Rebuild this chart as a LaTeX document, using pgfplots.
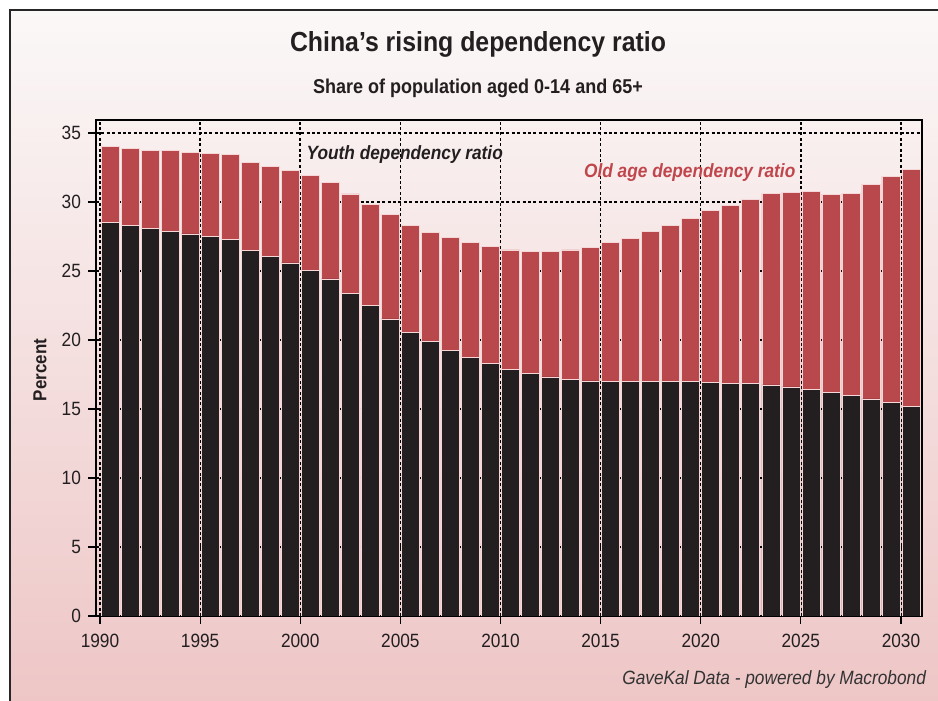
\documentclass[border=0pt]{standalone}
\usepackage{fontspec}
\setmainfont{Liberation Sans}[FakeStretch=0.9]
\usepackage{pgfplots}
\pgfplotsset{compat=1.18}
\usepackage{pgfplotstable}
\definecolor{youth}{RGB}{35,31,32}
\definecolor{old}{RGB}{185,72,76}
\definecolor{oldtxt}{RGB}{192,70,76}
\definecolor{bgtop}{RGB}{251,248,248}
\definecolor{bgbot}{RGB}{238,198,198}
\definecolor{baredge}{RGB}{245,215,215}

\pgfplotstableread{
year youth old
1990 28.50 5.50
1991 28.28 5.58
1992 28.08 5.68
1993 27.89 5.82
1994 27.69 5.93
1995 27.48 6.06
1996 27.26 6.21
1997 26.50 6.34
1998 26.04 6.51
1999 25.58 6.68
2000 25.07 6.85
2001 24.42 7.01
2002 23.40 7.18
2003 22.48 7.37
2004 21.53 7.57
2005 20.56 7.72
2006 19.88 7.91
2007 19.27 8.16
2008 18.76 8.30
2009 18.30 8.47
2010 17.89 8.64
2011 17.57 8.84
2012 17.33 9.10
2013 17.16 9.37
2014 17.04 9.66
2015 16.99 10.07
2016 16.97 10.41
2017 16.97 10.87
2018 16.97 11.33
2019 16.97 11.86
2020 16.92 12.45
2021 16.87 12.91
2022 16.84 13.35
2023 16.75 13.88
2024 16.60 14.10
2025 16.43 14.32
2026 16.21 14.35
2027 15.97 14.64
2028 15.73 15.56
2029 15.46 16.41
2030 15.19 17.17
}\data

\begin{document}
\begin{tikzpicture}
\useasboundingbox (0,0) rectangle (469pt,350.5pt);
\shade[top color=bgtop, bottom color=bgbot] (5pt,0) rectangle (469pt,345.5pt);
\draw[line width=1pt, black!85] (5pt,0) -- (5pt,345.5pt) -- (469pt,345.5pt);
\begin{axis}[
  at={(48pt,42.5pt)}, anchor=south west,
  width=413pt, height=248pt, scale only axis,
  xmin=1989.8, xmax=2031.05, ymin=0, ymax=35.94,
  ybar stacked, bar width=0.9,
  xtick={1990,1995,...,2030}, ytick={0,5,...,35},
  grid=major,
  grid style={black, line width=0.75pt, dash pattern=on 1.5pt off 1.2pt},
  tick align=outside, xtick pos=left, ytick pos=left,
  major tick length=4pt,
  tick style={black, line width=0.6pt},
  axis line style={black, line width=0.6pt},
  /pgf/number format/assume math mode=true,
  /pgf/number format/1000 sep={},
  tick label style={font=\fontsize{9.6}{10}\selectfont, text=youth},
  xticklabel style={yshift=-1.5pt},
]
\addplot[fill=youth, draw=baredge, line width=0.3pt] table[x expr=\thisrow{year}+0.5, y=youth]{\data};
\addplot[fill=old, draw=baredge, line width=0.3pt] table[x expr=\thisrow{year}+0.5, y=old]{\data};
\node[font=\fontsize{9.6}{10}\selectfont\bfseries\itshape, text=youth] at (axis cs:2005.22,33.43) {Youth dependency ratio};
\node[font=\fontsize{9.6}{10}\selectfont\bfseries\itshape, text=oldtxt] at (axis cs:2019.45,32.1) {Old age dependency ratio};
\end{axis}
\node[font=\fontsize{13.8}{16}\selectfont\bfseries, text=youth] at (239pt,328.5pt) {China’s rising dependency ratio};
\node[font=\fontsize{10}{12}\selectfont\bfseries, text=youth] at (239pt,306.5pt) {Share of population aged 0-14 and 65+};
\node[rotate=90, font=\fontsize{9.4}{11}\selectfont\bfseries, text=youth] at (20pt,165.5pt) {Percent};
\node[anchor=east, font=\fontsize{9.6}{11}\selectfont\itshape, text=black!80] at (466.5pt,10.5pt) {GaveKal Data - powered by Macrobond};
\end{tikzpicture}
\end{document}
